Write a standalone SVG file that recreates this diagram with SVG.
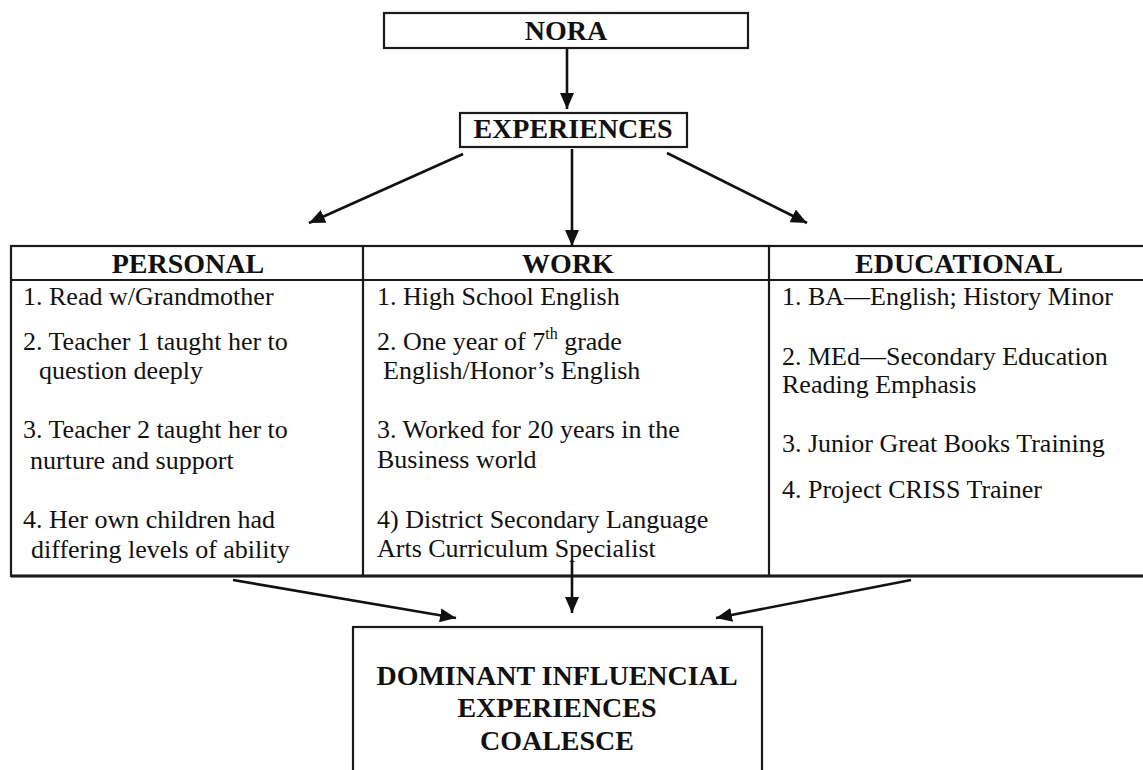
<svg xmlns="http://www.w3.org/2000/svg" width="1143" height="770" viewBox="0 0 1143 770">
<style>
.box{fill:#fff;stroke:#1a1a1a;stroke-width:2.2}
.ln{fill:none;stroke:#1a1a1a;stroke-width:2.2}
.conn{fill:none;stroke:#111;stroke-width:2.6}
.b{font-family:"Liberation Serif","Times New Roman",serif;font-weight:bold;font-size:28px;fill:#111;text-anchor:middle}
.t{font-family:"Liberation Serif","Times New Roman",serif;font-size:26px;fill:#111}
.sup{font-size:16px}
</style>
<defs>
<marker id="ah" markerUnits="userSpaceOnUse" markerWidth="16" markerHeight="14" refX="16" refY="7" orient="auto">
<path d="M0,0 L16,7 L0,14 z" fill="#111"/>
</marker>
</defs>
<rect width="1143" height="770" fill="#fff"/>

<g id="nora">
<rect class="box" x="384" y="13" width="364" height="35"/>
<text class="b" x="566" y="40">NORA</text>
</g>

<g id="experiences">
<rect class="box" x="460" y="113" width="227" height="34"/>
<text class="b" x="573" y="138">EXPERIENCES</text>
</g>

<g id="table">
<rect class="box" x="11" y="246" width="1140" height="330"/>
<line class="ln" x1="11" y1="280" x2="1143" y2="280"/>
<line class="ln" x1="363" y1="246" x2="363" y2="576"/>
<line class="ln" x1="769" y1="246" x2="769" y2="576"/>
<line x1="11" y1="576" x2="1143" y2="576" stroke="#1a1a1a" stroke-width="3"/>
</g>

<g id="personal">
<text class="b" x="188" y="273">PERSONAL</text>
<text class="t" x="23" y="305">1. Read w/Grandmother</text>
<text class="t" x="23" y="350">2. Teacher 1 taught her to</text>
<text class="t" x="39" y="379">question deeply</text>
<text class="t" x="23" y="438">3. Teacher 2 taught her to</text>
<text class="t" x="30" y="469">nurture and support</text>
<text class="t" x="23" y="528">4. Her own children had</text>
<text class="t" x="31" y="558">differing levels of ability</text>
</g>

<g id="work">
<text class="b" x="568" y="273">WORK</text>
<text class="t" x="377" y="305">1. High School English</text>
<text class="t" x="377" y="350">2. One year of 7<tspan class="sup" dy="-11">th</tspan><tspan dy="11"> grade</tspan></text>
<text class="t" x="383" y="379">English/Honor’s English</text>
<text class="t" x="377" y="438">3. Worked for 20 years in the</text>
<text class="t" x="377" y="468">Business world</text>
<text class="t" x="377" y="528">4) District Secondary Language</text>
<text class="t" x="377" y="557">Arts Curriculum Specialist</text>
</g>

<g id="educational">
<text class="b" x="959" y="273">EDUCATIONAL</text>
<text class="t" x="782" y="305">1. BA—English; History Minor</text>
<text class="t" x="782" y="365">2. MEd—Secondary Education</text>
<text class="t" x="782" y="393">Reading Emphasis</text>
<text class="t" x="782" y="452">3. Junior Great Books Training</text>
<text class="t" x="782" y="498">4. Project CRISS Trainer</text>
</g>

<g id="dominant">
<rect class="box" x="353" y="627" width="409" height="160"/>
<text class="b" x="557" y="685">DOMINANT INFLUENCIAL</text>
<text class="b" x="557" y="717">EXPERIENCES</text>
<text class="b" x="557" y="750">COALESCE</text>
</g>

<g id="connectors">
<line class="conn" x1="567" y1="48" x2="567" y2="109" marker-end="url(#ah)"/>
<line class="conn" x1="463" y1="154" x2="309" y2="223" marker-end="url(#ah)"/>
<line class="conn" x1="572" y1="149" x2="572" y2="246" marker-end="url(#ah)"/>
<line class="conn" x1="667" y1="153" x2="807" y2="223" marker-end="url(#ah)"/>
<line class="conn" x1="233" y1="580" x2="456" y2="618" marker-end="url(#ah)"/>
<line class="conn" x1="572" y1="560" x2="572" y2="613" marker-end="url(#ah)"/>
<line class="conn" x1="911" y1="580" x2="716" y2="618" marker-end="url(#ah)"/>
</g>
</svg>
